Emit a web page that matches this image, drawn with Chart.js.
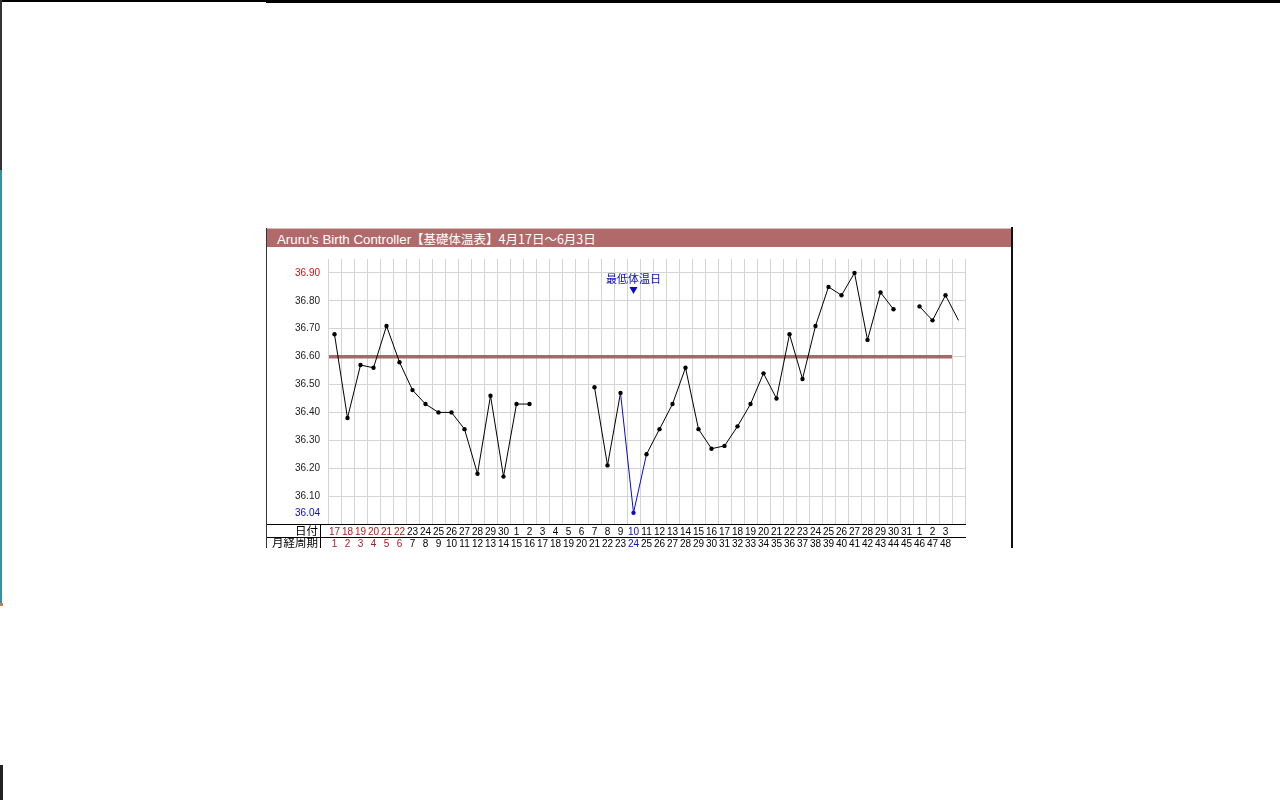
<!DOCTYPE html>
<html>
<head>
<meta charset="utf-8">
<script src="https://cdn.jsdelivr.net/npm/chart.js@4.4.1/dist/chart.umd.min.js"></script>
<style>
  html, body { margin:0; padding:0; background:#fff; }
  #page { position:relative; width:1280px; height:800px; overflow:hidden; background:#fff; }
  .abs { position:absolute; }
  #title { left:267px; top:228px; width:744px; height:19px; background:#b06a6a; border-top:1px solid #dcbaba;
           color:#fff; font:13.3px "Liberation Sans", "Noto Sans CJK JP", sans-serif; line-height:20px; padding-left:10px; box-sizing:border-box; white-space:nowrap; }
  #title .jp { font-family:"Noto Sans CJK JP", sans-serif; font-size:12.5px; }
  #wrap { left:267px; top:249px; width:745px; height:299px; }
  .rowhead { left:267px; width:51px; text-align:right; font:11.5px "Noto Sans CJK JP", sans-serif; color:#000; white-space:nowrap; }
</style>
</head>
<body>
<div id="page">
  <div class="abs" style="left:0;top:0;width:1280px;height:2px;background:#000"></div>
  <div class="abs" style="left:266px;top:0;width:1014px;height:3px;background:#000"></div>
  <div class="abs" style="left:0;top:0;width:2px;height:170px;background:#333"></div>
  <div class="abs" style="left:0;top:170px;width:2px;height:433px;background:#3f8ea0"></div>
  <div class="abs" style="left:0;top:603px;width:3px;height:3px;background:#c08050"></div>
  <div class="abs" style="left:0;top:765px;width:3px;height:35px;background:#222"></div>

  <div id="title" class="abs">Aruru's Birth Controller<span class="jp">【基礎体温表】4月17日～6月3日</span></div>
  <div class="abs" style="left:266px;top:228px;width:1px;height:320px;background:#333"></div>
  <div class="abs" style="left:1011px;top:227px;width:2px;height:321px;background:#111;z-index:3"></div>

  <div id="wrap" class="abs"><canvas id="c" width="745" height="299"></canvas></div>
  <div class="abs rowhead" style="top:524px;line-height:13px;">日付</div>
  <div class="abs rowhead" style="top:536px;line-height:12px;">月経周期</div>
</div>
<script>
// ---- data ----
const dateLabels = ["17","18","19","20","21","22","23","24","25","26","27","28","29","30",
  "1","2","3","4","5","6","7","8","9","10","11","12","13","14","15","16","17","18","19","20",
  "21","22","23","24","25","26","27","28","29","30","31","1","2","3",""];
const cycleLabels = ["1","2","3","4","5","6","7","8","9","10","11","12","13","14","15","16",
  "17","18","19","20","21","22","23","24","25","26","27","28","29","30","31","32","33","34",
  "35","36","37","38","39","40","41","42","43","44","45","46","47","48",""];
const temperatures = [36.68,36.38,36.57,36.56,36.71,36.58,36.48,36.43,36.40,36.40,36.34,36.18,
  36.46,36.17,36.43,36.43,null,null,null,null,36.49,36.21,36.47,36.04,36.25,36.34,36.43,36.56,
  36.34,36.27,36.28,36.35,36.43,36.54,36.45,36.68,36.52,36.71,36.85,36.82,36.90,36.66,36.83,
  36.77,null,36.78,36.73,36.82,36.73];
const periodIndices = [0,1,2,3,4,5];
const coverLine = 36.60;
const yTickValues = [36.04,36.05,36.10,36.15,36.20,36.25,36.30,36.35,36.40,36.45,36.50,
  36.55,36.60,36.65,36.70,36.75,36.80,36.85,36.90,36.95];
const yLabelValues = [36.04,36.10,36.20,36.30,36.40,36.50,36.60,36.70,36.80,36.90];
const annotationText = "最低体温日";

// ---- derived ----
let minIdx = 0;
temperatures.forEach((v,i)=>{ if (v!==null && v < temperatures[minIdx]) minIdx = i; });
const minTemp = temperatures[minIdx];
const maxTemp = Math.max(...temperatures.filter(v=>v!==null));
const lastDateIdx = dateLabels.length - 1 - [...dateLabels].reverse().findIndex(l => l !== "");

const BLUE = "#0a0ac8", RED = "#b01c1c", YRED = "#d01010", BLACK = "#000";
const approx = (a,b) => Math.abs(a-b) < 1e-6;

Chart.defaults.font.family = '"Liberation Sans", Arial, sans-serif';
Chart.defaults.font.size = 10;

const extrasPlugin = {
  id: 'extras',
  beforeDatasetsDraw(chart) {
    const {ctx, chartArea, scales:{x, y}} = chart;
    const yy = y.getPixelForValue(coverLine);
    const cell = x.getPixelForValue(1) - x.getPixelForValue(0);
    const xEnd = x.getPixelForValue(lastDateIdx) + cell/2;
    ctx.save();
    ctx.strokeStyle = "#a86868"; ctx.lineWidth = 3.5;
    ctx.beginPath(); ctx.moveTo(chartArea.left + 1, yy); ctx.lineTo(xEnd, yy); ctx.stroke();
    ctx.restore();
  },
  afterDraw(chart) {
    const {ctx, chartArea, scales:{x, x2}} = chart;
    ctx.save();
    ctx.strokeStyle = "#000"; ctx.lineWidth = 1;
    const y1 = Math.round(x.top) + 0.5, y2 = Math.round(x2.top) + 0.5;
    ctx.beginPath();
    ctx.moveTo(0, y1); ctx.lineTo(chartArea.left, y1);
    ctx.moveTo(0, y2); ctx.lineTo(chartArea.left, y2);
    ctx.moveTo(53.5, y1); ctx.lineTo(53.5, chart.height);
    ctx.stroke();
    // lowest-temperature marker
    const px = x.getPixelForValue(minIdx);
    ctx.fillStyle = BLUE;
    ctx.font = '11px "Noto Sans CJK JP", sans-serif';
    ctx.textAlign = 'center'; ctx.textBaseline = 'middle';
    ctx.fillText(annotationText, px, chartArea.top + 20);
    ctx.beginPath();
    ctx.moveTo(px - 4, chartArea.top + 28); ctx.lineTo(px + 4, chartArea.top + 28); ctx.lineTo(px, chartArea.top + 35);
    ctx.closePath(); ctx.fill();
    ctx.restore();
  }
};

new Chart(document.getElementById('c'), {
  type: 'line',
  data: {
    labels: dateLabels,
    datasets: [{
      data: temperatures,
      borderColor: BLACK,
      borderWidth: 1,
      tension: 0,
      spanGaps: false,
      pointRadius: ctx => dateLabels[ctx.dataIndex] === "" ? 0 : 2.2,
      pointBorderWidth: 0,
      pointBackgroundColor: ctx => ctx.dataIndex === minIdx ? BLUE : BLACK,
      pointBorderColor: ctx => ctx.dataIndex === minIdx ? BLUE : BLACK,
      segment: {
        borderColor: ctx => (ctx.p0DataIndex === minIdx || ctx.p1DataIndex === minIdx) ? BLUE : BLACK
      }
    }]
  },
  options: {
    responsive: false,
    animation: false,
    devicePixelRatio: 1,
    layout: { padding: { top: 10, right: 47, left: 0, bottom: 0 } },
    plugins: { legend: { display: false }, tooltip: { enabled: false } },
    scales: {
      x: {
        type: 'category', position: 'bottom', offset: true,
        grid: { offset: true, color: '#d4d4d4', drawTicks: false },
        border: { display: true, color: '#000', width: 1 },
        ticks: {
          autoSkip: false, maxRotation: 0, minRotation: 0, padding: 2,
          font: { size: 10 },
          color: ctx => ctx.index === minIdx ? BLUE : (periodIndices.includes(ctx.index) ? RED : BLACK)
        },
        afterFit: s => { s.height = 13; s.paddingLeft = 0; s.paddingRight = 0; }
      },
      x2: {
        type: 'category', position: 'bottom', offset: true, labels: cycleLabels,
        grid: { display: false, drawTicks: false },
        border: { display: true, color: '#000', width: 1 },
        ticks: {
          autoSkip: false, maxRotation: 0, minRotation: 0, padding: 1,
          font: { size: 10 },
          color: ctx => ctx.index === minIdx ? BLUE : (periodIndices.includes(ctx.index) ? RED : BLACK)
        },
        afterFit: s => { s.height = 11; s.paddingLeft = 0; s.paddingRight = 0; }
      },
      y: {
        type: 'linear', position: 'left', min: 36.00, max: 36.95,
        afterBuildTicks: s => { s.ticks = yTickValues.map(v => ({ value: v })); },
        grid: { color: ctx => approx(ctx.tick.value, minTemp) ? 'rgba(0,0,0,0)' : '#d4d4d4', drawTicks: false },
        border: { display: false },
        ticks: {
          padding: 8, font: { size: 10 },
          callback: v => yLabelValues.some(l => approx(l, v)) ? v.toFixed(2) : '',
          color: ctx => approx(ctx.tick.value, minTemp) ? BLUE : (approx(ctx.tick.value, maxTemp) ? YRED : '#222')
        },
        afterFit: s => { s.width = 61; s.paddingTop = 0; s.paddingBottom = 0; }
      }
    }
  },
  plugins: [extrasPlugin]
});
</script>
</body>
</html>
